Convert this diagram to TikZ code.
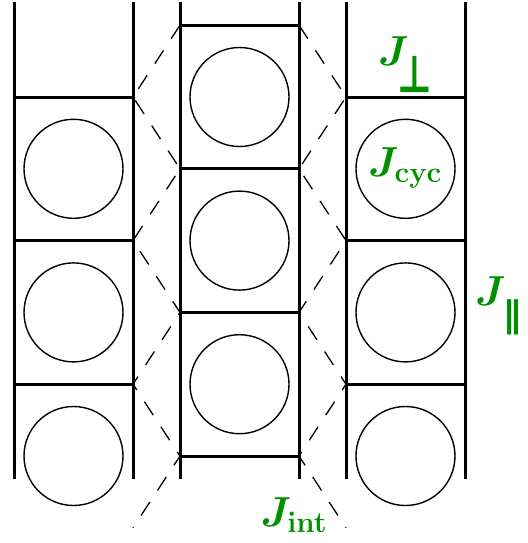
\RequirePackage{fix-cm}
\documentclass[tikz,border=0pt]{standalone}
\usepackage[no-math]{fontspec}
\usepackage{amsmath}
\usepackage{graphicx}
\newfontfamily\symfnt{DejaVu Sans}
\definecolor{jgreen}{RGB}{0,145,0}
\begin{document}
\begin{tikzpicture}[x=1pt,y=-1pt,
  rail/.style={line width=3pt},
  rung/.style={line width=3pt},
  site/.style={circle,draw,line width=1.4pt,minimum size=99pt,inner sep=0pt},
  link/.style={line width=1.3pt,dash pattern=on 16pt off 14pt},
  lab/.style={text=jgreen,inner sep=0pt,font=\fontsize{42}{50}\selectfont\boldmath}]
\useasboundingbox (0,0) rectangle (527,543);
\def\sp{143.6}
% rails
\foreach \xl/\n in {14/L,180/M,346/R}{
  \coordinate (\n top1) at (\xl,2);
  \coordinate (\n bot1) at (\xl,479);
  \coordinate (\n top2) at (\xl+119,2);
  \coordinate (\n bot2) at (\xl+119,479);
  \draw[rail] (\n top1) -- (\n bot1);
  \draw[rail] (\n top2) -- (\n bot2);
}
% rungs of outer columns and sites
\foreach \i in {0,1,2}{
  \coordinate (La\i) at (14,97+\i*\sp);
  \coordinate (Lb\i) at (133,97+\i*\sp);
  \coordinate (Ra\i) at (346,97+\i*\sp);
  \coordinate (Rb\i) at (465,97+\i*\sp);
  \draw[rung] (La\i) -- (Lb\i);
  \draw[rung] (Ra\i) -- (Rb\i);
  \node[site] (cL\i) at (73.5,168.8+\i*\sp) {};
  \node[site] (cR\i) at (405.5,168.8+\i*\sp) {};
  \node[site] (cM\i) at (239.5,97+\i*\sp) {};
}
\coordinate (Lb3) at (133,97+3*\sp);
\coordinate (Ra3) at (346,97+3*\sp);
% rungs of middle column
\foreach \i in {0,1,2,3}{
  \coordinate (Ma\i) at (180,25.2+\i*\sp);
  \coordinate (Mb\i) at (299,25.2+\i*\sp);
  \draw[rung] (Ma\i) -- (Mb\i);
}
% dashed inter-chain links
\draw[link] (Ma0) -- (Lb0) -- (Ma1) -- (Lb1) -- (Ma2) -- (Lb2) -- (Ma3) -- (Lb3);
\draw[link] (Mb0) -- (Ra0) -- (Mb1) -- (Ra1) -- (Mb2) -- (Ra2) -- (Mb3) -- (Ra3);
% labels
\node[lab,anchor=base west] (jperp) at (378,66) {$J$\kern-11pt\lower27pt\hbox{\symfnt\bfseries\fontsize{38}{40}\selectfont\scalebox{1}[1.35]{⊥}}};
\node[lab] (jcyc) at (405,168) {$J_{\mathbf{cyc}}$};
\node[lab,anchor=base west] (jpar) at (475,305) {$J$\kern-2pt\lower22pt\hbox{\symfnt\bfseries\fontsize{36}{40}\selectfont ∥}};
\node[lab] (jint) at (294,515) {$J_{\mathbf{int}}$};
\end{tikzpicture}
\end{document}
